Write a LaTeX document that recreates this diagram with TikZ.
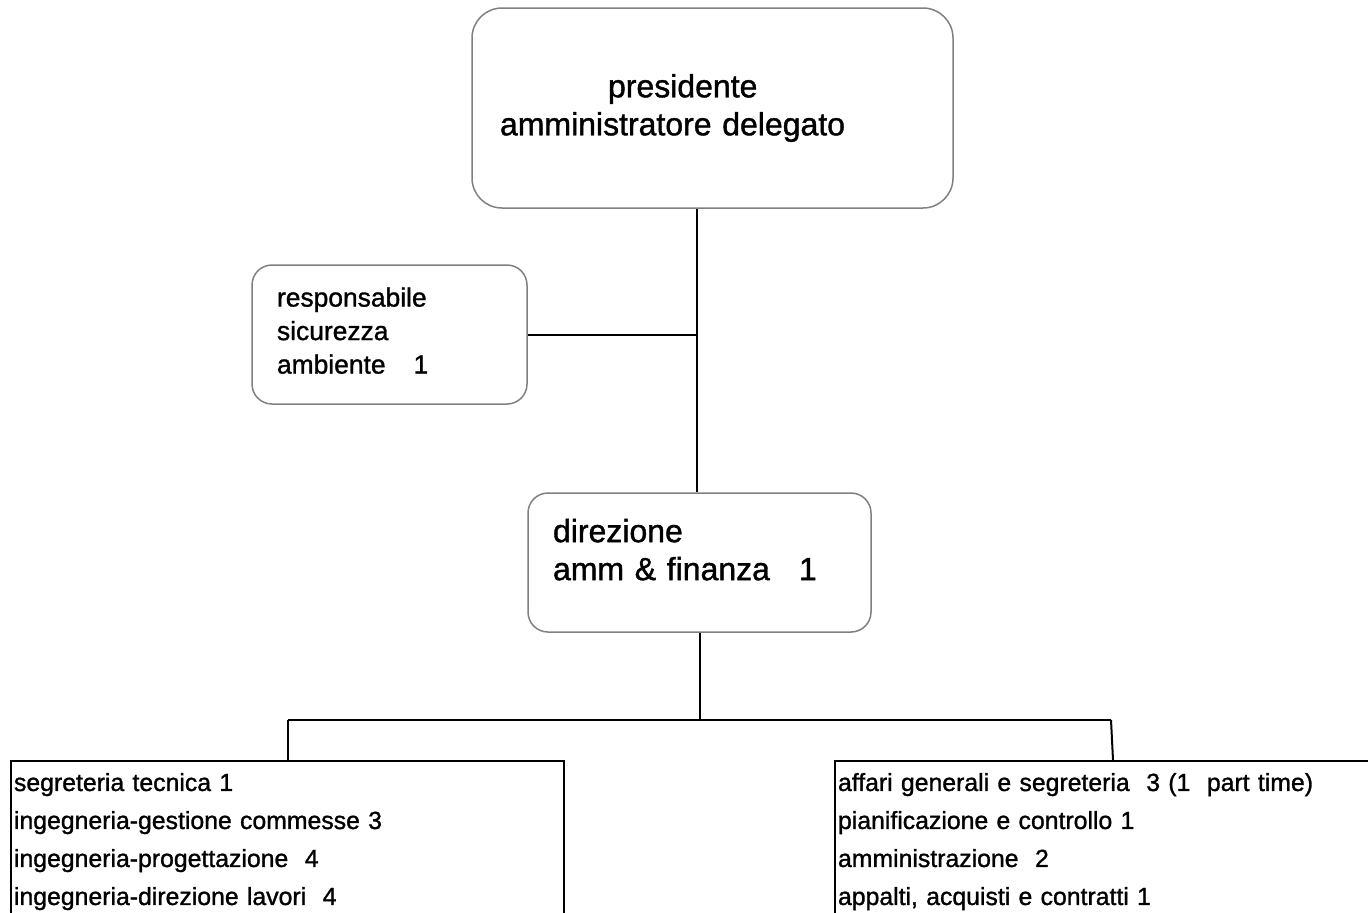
\documentclass[tikz,border=0pt]{standalone}
\usepackage{fontspec}
\setmainfont{Liberation Sans}[BoldFont={Liberation Sans}, BoldFeatures={FakeBold=1.2}]
\usetikzlibrary{positioning}

\begin{document}
\begin{tikzpicture}[x=0.5pt, y=-0.5pt,
    rbox/.style={draw=black!50, line width=0.75pt, rounded corners=10pt, align=left, inner ysep=0pt},
    listbox/.style={draw=black, line width=1pt, anchor=north west, align=left, inner xsep=1.5pt, inner ysep=6pt, font=\fontsize{12.4}{19}\selectfont\bfseries},
    link/.style={draw=black, line width=1pt}]
\clip (0,0) rectangle (1368,912);

% boxes
\node[rbox, rounded corners=15pt, minimum width=240.5pt, minimum height=100pt, inner xsep=14pt, text width=212.5pt,
      font=\fontsize{16}{19}\selectfont\bfseries] (pres) at (712.5,108)
      {\hspace*{54pt}presidente\\amministratore delegato};
\node[rbox, minimum width=137.5pt, minimum height=69.5pt, inner xsep=12.5pt, text width=112.5pt,
      font=\fontsize{13.2}{16.75}\selectfont\bfseries] (resp) at (389.5,334.5)
      {responsabile\\sicurezza\\ambiente\hspace{14pt}1\\[-12.75pt]\mbox{}};
\node[rbox, minimum width=171.5pt, minimum height=69.5pt, inner xsep=12.5pt, text width=146.5pt,
      font=\fontsize{16}{19}\selectfont\bfseries] (dir) at (699.5,562.5)
      {direzione\\amm \& finanza\hspace{14.5pt}1\\[-6pt]\mbox{}};
\node[listbox, text width=273.5pt] (tecn) at (10,760)
      {segreteria tecnica 1\\
       ingegneria-gestione commesse 3\\
       ingegneria-progettazione\ \ 4\\
       ingegneria-direzione lavori\ \ 4\\
       \ };
\node[listbox, text width=300pt] (amm) at (834,760)
      {affari generali e segreteria\ \ 3 (1\ \ part time)\\
       pianificazione e controllo 1\\
       amministrazione\ \ 2\\
       appalti, acquisti e contratti 1\\
       \ };

% connectors
\coordinate (busL) at (288,720);
\coordinate (busR) at (1111,720);
\coordinate (trunk) at (697,0);
\draw[link] (pres.south -| trunk) -- (dir.north -| trunk);
\draw[link] (resp.east) -- (resp.east -| trunk);
\draw[link] (dir.south) -- (dir.south |- busL);
\draw[link] (busL) -- (busR);
\draw[link] (busL) -- (busL |- tecn.north);
\draw[link] (busR) -- ([xshift=1pt]busR |- amm.north);
\end{tikzpicture}
\end{document}
